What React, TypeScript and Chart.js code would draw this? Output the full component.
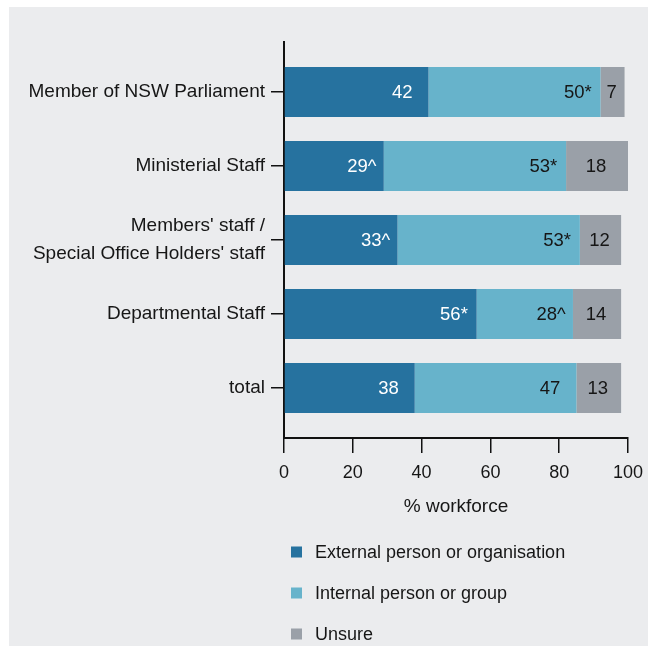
import React, { useEffect, useRef } from 'react';
import { Chart, registerables } from 'chart.js';

Chart.register(...registerables);

const categories: string[][] = [
  ['Member of NSW Parliament'],
  ['Ministerial Staff'],
  ["Members' staff /", "Special Office Holders' staff"],
  ['Departmental Staff'],
  ['total'],
];
const seriesNames = ['External person or organisation', 'Internal person or group', 'Unsure'];
const externalValues = [42, 29, 33, 56, 38];
const internalValues = [50, 53, 53, 28, 47];
const unsureValues = [7, 18, 12, 14, 13];
const externalMarks = ['', '^', '^', '*', ''];
const internalMarks = ['*', '*', '*', '^', ''];
const unsureMarks = ['', '', '', '', ''];
const xTickValues = [0, 20, 40, 60, 80, 100];
const xTitle = '% workforce';

const seriesValues = [externalValues, internalValues, unsureValues];
const seriesMarks = [externalMarks, internalMarks, unsureMarks];
const colors = ['#26729f', '#67b3cb', '#9aa0a8'];
const FONT = '"Liberation Sans", Arial, Helvetica, sans-serif';
const TEXT = '#161616';
const BG = '#ebecee';

const bgPlugin = {
  id: 'bgFill',
  beforeDraw(chart: any) {
    const { ctx, width, height } = chart;
    ctx.save();
    ctx.fillStyle = BG;
    ctx.fillRect(0, 0, width, height);
    ctx.restore();
  },
};

const labelPlugin = {
  id: 'barLabels',
  afterDatasetsDraw(chart: any) {
    const ctx = chart.ctx;
    ctx.save();
    ctx.font = `18.5px ${FONT}`;
    ctx.textBaseline = 'middle';
    chart.data.datasets.forEach((_ds: any, k: number) => {
      const meta = chart.getDatasetMeta(k);
      meta.data.forEach((bar: any, i: number) => {
        const { x, y, base } = bar.getProps(['x', 'y', 'base'], true);
        const num = String(seriesValues[k][i]);
        const mark = seriesMarks[k][i];
        ctx.fillStyle = k === 0 ? '#ffffff' : TEXT;
        if (k === 2) {
          ctx.textAlign = 'center';
          ctx.fillText(num, (x + base) / 2 - 1, y + 1);
        } else {
          ctx.textAlign = 'right';
          ctx.fillText(num, x - 16, y + 1);
          if (mark) {
            ctx.textAlign = 'left';
            ctx.fillText(mark, x - 16, y + 1);
          }
        }
      });
    });
    ctx.restore();
  },
};

const legendPlugin = {
  id: 'vertLegend',
  afterDraw(chart: any) {
    const ctx = chart.ctx;
    const xs = chart.scales.x;
    const left = chart.chartArea.left;
    ctx.save();
    ctx.font = `18px ${FONT}`;
    ctx.textBaseline = 'middle';
    ctx.textAlign = 'left';
    chart.data.datasets.forEach((ds: any, k: number) => {
      const cy = xs.bottom + 34 + k * 41;
      ctx.fillStyle = ds.backgroundColor;
      ctx.fillRect(left + 7, cy - 5.5, 11, 11);
      ctx.fillStyle = TEXT;
      ctx.fillText(ds.label, left + 31, cy + 1);
    });
    ctx.restore();
  },
};

export default function App() {
  const ref = useRef<HTMLCanvasElement | null>(null);
  useEffect(() => {
    if (!ref.current) return;
    const chart = new Chart(ref.current, {
      type: 'bar',
      data: {
        datasets: seriesValues.map((vals, k) => ({
          label: seriesNames[k],
          data: vals.map((v, i) => ({ x: v, y: i })),
          backgroundColor: colors[k],
          borderWidth: 0,
          barPercentage: 1,
          categoryPercentage: 0.676,
        })),
      },
      options: {
        indexAxis: 'y',
        animation: false,
        responsive: false,
        layout: { padding: { top: 35, right: 20, left: 0, bottom: 128 } },
        plugins: { legend: { display: false }, tooltip: { enabled: false } },
        scales: {
          y: {
            type: 'linear',
            reverse: true,
            min: -0.676,
            max: 4.676,
            stacked: true,
            offset: false,
            afterBuildTicks: (s: any) => {
              s.ticks = categories.map((_c, i) => ({ value: i }));
            },
            afterFit: (s: any) => {
              s.width = 275;
              s.paddingTop = 0;
              s.paddingBottom = 0;
            },
            ticks: {
              autoSkip: false,
              callback: (v: any) => categories[Number(v)],
              font: { size: 19, family: FONT, lineHeight: 1.46 },
              color: TEXT,
              padding: 6,
            },
            grid: { drawOnChartArea: false, offset: false, tickLength: 13, color: '#111', lineWidth: 1.5 },
            border: { color: '#111', width: 2 },
          },
          x: {
            type: 'linear',
            min: 0,
            max: 100,
            stacked: true,
            afterBuildTicks: (s: any) => {
              s.ticks = xTickValues.map((v) => ({ value: v }));
            },
            afterFit: (s: any) => {
              s.height = 80;
              s.paddingLeft = 0;
              s.paddingRight = 0;
            },
            ticks: { font: { size: 18, family: FONT }, color: TEXT, padding: 9 },
            grid: { drawOnChartArea: false, tickLength: 15, color: '#111', lineWidth: 1.5 },
            border: { color: '#111', width: 2 },
            title: {
              display: true,
              text: xTitle,
              font: { size: 19, family: FONT },
              color: TEXT,
              padding: { top: 0, bottom: 0 },
            },
          },
        },
      } as any,
      plugins: [bgPlugin, labelPlugin, legendPlugin],
    });
    return () => chart.destroy();
  }, []);
  return (
    <div style={{ position: 'absolute', left: 9, top: 7, width: 639, height: 639 }}>
      <canvas ref={ref} width={639} height={639} style={{ display: 'block' }} />
    </div>
  );
}
